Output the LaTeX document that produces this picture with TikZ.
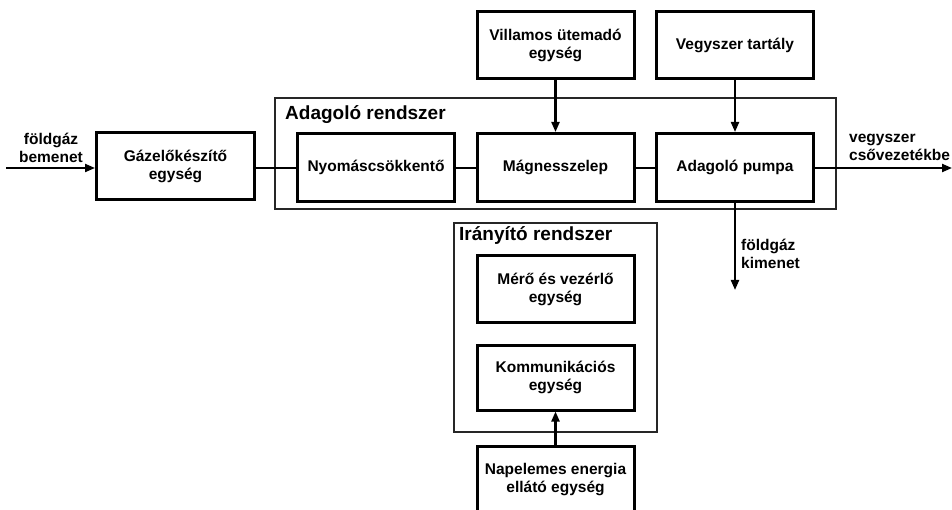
\documentclass[tikz,border=0pt]{standalone}
\usepackage{fontspec}
\setmainfont{Liberation Sans}
\usetikzlibrary{arrows.meta}
\begin{document}
\begin{tikzpicture}[x=1pt,y=-1pt,
  font=\fontsize{15.5}{18}\selectfont\bfseries,
  blk/.style={draw, line width=3pt, minimum width=155pt, minimum height=65pt, align=center, inner sep=0pt},
  grp/.style={draw=black!85, line width=1.3pt},
  ttl/.style={anchor=west, inner sep=0pt, font=\fontsize{19}{22}\selectfont\bfseries},
  conn/.style={line width=2.1pt},
  arr/.style={conn, -{Triangle[length=10pt,width=8pt]}},
  lbl/.style={align=left, inner sep=0pt}
]
\useasboundingbox (0,0) rectangle (952,510);
% groups
\draw[grp] (275,98) rectangle (836,209);
\node[ttl] (t1) at (285,115) {Adagoló rendszer};
\draw[grp] (454,223) rectangle (657,432);
\node[ttl] (t2) at (459,236) {Irányító rendszer};
% blocks
\node[blk, minimum width=158pt, minimum height=67pt] (gaz) at (175.5,166.5) {Gázelőkészítő\\egység};
\node[blk, minimum width=157pt, minimum height=68pt] (nyo) at (376,167.5) {Nyomáscsökkentő};
\node[blk, minimum width=157pt, minimum height=68pt] (mag) at (555.5,167.5) {Mágnesszelep};
\node[blk, minimum width=157pt, minimum height=68pt] (pum) at (735,167.5) {Adagoló pumpa};
\node[blk, minimum width=157pt, minimum height=67pt] (vil) at (555.5,45.5) {Villamos ütemadó\\egység};
\node[blk, minimum width=157pt, minimum height=67pt] (veg) at (735,45.5) {Vegyszer tartály};
\node[blk, minimum width=157pt, minimum height=66pt] (mer) at (555.5,289) {Mérő és vezérlő\\egység};
\node[blk, minimum width=157pt, minimum height=65pt] (kom) at (555.5,377.5) {Kommunikációs\\egység};
\node[blk, minimum width=157pt, minimum height=68pt] (nap) at (555.5,480) {Napelemes energia\\ellátó egység};
% coordinates
\coordinate (in) at (6,168);
\coordinate (out) at (952,168);
\coordinate (down) at (735,290);
% connectors
\draw[arr] (in) -- (gaz.west |- in);
\draw[conn] (gaz.east |- in) -- (nyo.west |- in);
\draw[conn] (nyo.east |- in) -- (mag.west |- in);
\draw[conn] (mag.east |- in) -- (pum.west |- in);
\draw[arr] (pum.east |- out) -- (out);
\draw[arr] (pum.south) -- (down);
\draw[arr] (vil.south) -- (mag.north);
\draw[arr] (veg.south) -- (pum.north);
\draw[arr] (nap.north) -- (kom.south);
% labels
\node[align=center, inner sep=0pt] (l1) at (51,147.5) {földgáz\\bemenet};
\node[lbl, anchor=west] (l2) at (849,147.5) {vegyszer\\csővezetékbe};
\node[lbl, anchor=west] (l3) at (741,254) {földgáz\\kimenet};
\end{tikzpicture}
\end{document}
